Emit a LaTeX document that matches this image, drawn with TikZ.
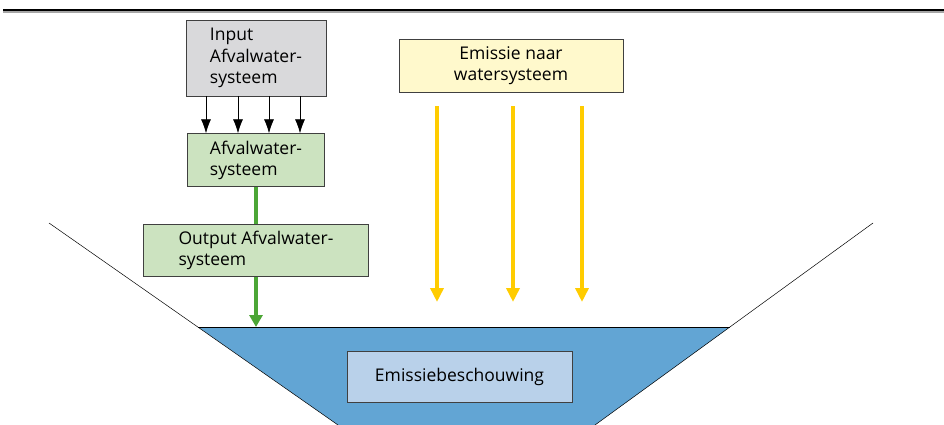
\documentclass[tikz,border=0pt]{standalone}
\usepackage{fontspec}
\setmainfont{Open Sans}
\usetikzlibrary{arrows.meta,positioning}
\definecolor{inputgray}{HTML}{D9D9DB}
\definecolor{boxgreen}{HTML}{CCE3C0}
\definecolor{flowgreen}{HTML}{4CA636}
\definecolor{boxyellow}{HTML}{FFF9CC}
\definecolor{flowyellow}{HTML}{FFCC00}
\definecolor{water}{HTML}{62A5D4}
\definecolor{boxblue}{HTML}{B9D1EA}

\begin{document}
\begin{tikzpicture}[x=1pt,y=-1pt,every node/.append style={align=left,font=\fontsize{17.5}{21.5}\selectfont},
  blok/.style={draw=black!75,line width=0.7pt,inner sep=0pt},
  pijl/.style={-{Latex[length=14pt,width=10pt]},line width=0.8pt},
  groen/.style={draw=flowgreen,line width=3.5pt},
  geel/.style={-{Triangle[length=14pt,width=13pt]},draw=flowyellow,line width=4pt},
  oever/.style={line width=0.5pt}]
    \useasboundingbox (0,0) rectangle (944,425);
    % bovenlijn
    \draw[line width=2pt,black!35] (3,12) -- (944,12);
    \draw[line width=1.3pt] (3,10) -- (944,10);

    % watersysteem
    \coordinate (linksboven) at (49,223);
    \coordinate (rechtsboven) at (873,223);
    \coordinate (linkswater) at (198,327);
    \coordinate (rechtswater) at (730,327);
    \coordinate (linksbodem) at (338,425);
    \coordinate (rechtsbodem) at (595,425);
    \fill[water] (linkswater) -- (rechtswater) -- (rechtsbodem) -- (linksbodem) -- cycle;
    \draw[line width=0.8pt] (linkswater) -- (rechtswater);
    \draw[oever] (linksboven) -- (linksbodem);
    \draw[oever] (rechtsboven) -- (rechtsbodem);

    \node [blok, fill=inputgray, minimum width=140, minimum height=76] (input) at (256,58) {Input\\Afvalwater-\\systeem};
    \node [blok, fill=boxgreen, minimum width=137, minimum height=53, below=37pt of input] (afval) {Afvalwater-\\systeem};
    \node [blok, fill=boxgreen, minimum width=225, minimum height=52, below=37pt of afval] (output) {Output Afvalwater-\\systeem};
    \node [blok, fill=boxyellow, minimum width=224, minimum height=53, align=center] (emissie) at (511,65.5) {Emissie naar\\watersysteem};
    \node [blok, fill=boxblue, minimum width=225, minimum height=51] (beschouwing) at (459.5,376.5) {Emissiebeschouwing};

    \foreach \dx in {-50,-18,13,44}
        \draw[pijl] ([xshift=\dx pt]input.south) -- ([xshift=\dx pt]input.south |- afval.north);

    \draw[groen] (afval.south) -- (output.north);
    \draw[groen,-{Triangle[length=12pt,width=13pt]}] (output.south) -- (output.south |- linkswater);

    \coordinate (geeleind) at (0,302);
    \foreach \dx in {-74,2,71}
        \draw[geel] ([xshift=\dx pt,yshift=-14pt]emissie.south) -- ([xshift=\dx pt]emissie.south |- geeleind);
\end{tikzpicture}
\end{document}
